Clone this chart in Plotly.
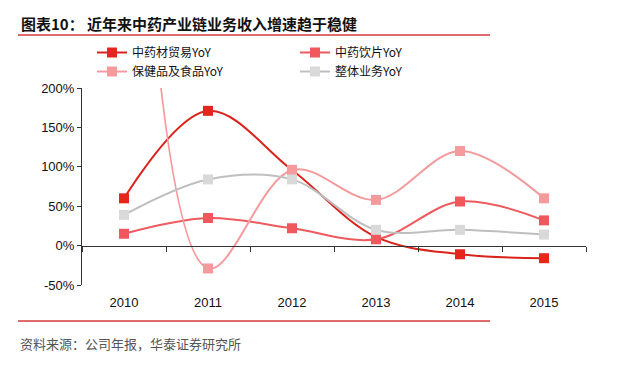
import plotly.graph_objects as go

year_labels = ["2010", "2011", "2012", "2013", "2014", "2015"]
herb_trade = [60, 171, 96, 11, -11, -16]
decoction = [15, 35, 22, 8, 56, 32]
health_food = [950, -29, 96, 58, 120, 60]
overall = [39, 84, 84, 20, 20, 14]

series_names = ["中药材贸易YoY", "中药饮片YoY", "保健品及食品YoY", "整体业务YoY"]
series_values = [herb_trade, decoction, health_food, overall]
line_colors = ["#D9241C", "#EE5A5E", "#F49A9C", "#BFBFBF"]
marker_colors = ["#E5261C", "#F0585D", "#F59A9C", "#D9D9D9"]

y_ticks = [-50, 0, 50, 100, 150, 200]
y_tick_text = ["-50%", "0%", "50%", "100%", "150%", "200%"]

fig = go.Figure()
for name, vals, lc, mc in zip(series_names, series_values, line_colors, marker_colors):
    fig.add_trace(go.Scatter(
        x=year_labels, y=vals, name=name, mode="lines+markers",
        line=dict(color=lc, width=2, shape="spline", smoothing=1.0),
        marker=dict(symbol="square", size=10, color=mc),
        cliponaxis=True,
    ))

font_main = "Liberation Sans, Arial, Noto Sans CJK SC, sans-serif"
PW, PH = 504, 197
TOP = 80

fig.update_layout(
    width=632, height=372,
    margin=dict(l=74, r=54, t=TOP, b=95, autoexpand=False),
    paper_bgcolor="white", plot_bgcolor="white",
    font=dict(family=font_main, size=13, color="#111111"),
    showlegend=True,
    legend=dict(
        orientation="h", xref="paper", yref="paper",
        x=10/PW, y=1 + (TOP-30)/PH, xanchor="left", yanchor="top",
        entrywidth=158, entrywidthmode="pixels",
        font=dict(family="Noto Sans CJK SC, Liberation Sans, sans-serif", size=12, color="#111111"),
        itemwidth=30, tracegroupgap=0, bgcolor="rgba(0,0,0,0)",
    ),
    xaxis=dict(
        type="category", categoryorder="array", categoryarray=year_labels,
        range=[-0.5, 5.5], anchor="free", position=0.2,
        tickson="boundaries", ticks="outside", ticklen=5, tickcolor="#333333",
        showline=True, linecolor="#333333", linewidth=1,
        showgrid=False, zeroline=False, ticklabelstandoff=45,
        tickfont=dict(size=13, color="#111111"),
    ),
    yaxis=dict(
        range=[-50, 200], tickmode="array", tickvals=y_ticks, ticktext=y_tick_text,
        showline=True, linecolor="#333333", linewidth=1, ticks="outside", ticklen=4,
        tickcolor="#333333", showgrid=False, zeroline=False,
        tickfont=dict(size=13, color="#111111"),
    ),
)

# header and footer rules
fig.add_shape(type="line", xref="paper", yref="paper", x0=-64/PW, x1=408/PW,
              y0=1 + 53/PH, y1=1 + 53/PH, line=dict(color="#D33A3C", width=1.5))
fig.add_shape(type="line", xref="paper", yref="paper", x0=-64/PW, x1=408/PW,
              y0=-36/PH, y1=-36/PH, line=dict(color="#D33A3C", width=1.5))

fig.add_annotation(xref="paper", yref="paper", x=-63/PW, y=1 + 65/PH,
                   xanchor="left", yanchor="middle", showarrow=False,
                   text="<b>图表10：</b>",
                   font=dict(family="Noto Sans CJK SC, sans-serif", size=15, color="#111111"))
fig.add_annotation(xref="paper", yref="paper", x=3/PW, y=1 + 65/PH,
                   xanchor="left", yanchor="middle", showarrow=False,
                   text="<b>近年来中药产业链业务收入增速趋于稳健</b>",
                   font=dict(family="Noto Sans CJK SC, sans-serif", size=15, color="#111111"))
fig.add_annotation(xref="paper", yref="paper", x=-64/PW, y=-58/PH,
                   xanchor="left", yanchor="middle", showarrow=False,
                   text="资料来源：公司年报，华泰证券研究所",
                   font=dict(family="Noto Sans CJK SC, sans-serif", size=13, color="#555555"))

fig.write_html("out.html")
